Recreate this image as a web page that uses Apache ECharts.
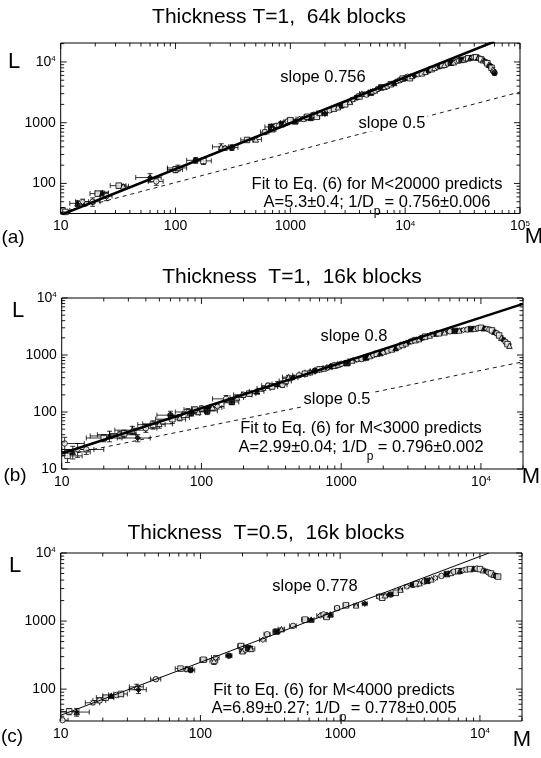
<!DOCTYPE html>
<html><head><meta charset="utf-8">
<script src="https://cdn.jsdelivr.net/npm/echarts@6/dist/echarts.min.js"></script>
<style>html,body{margin:0;padding:0;background:#fff}#c{width:541px;height:758px}</style>
</head><body><div id="c"></div><script>
// ---------- data: [M, L, dM, dL] ----------
const ptsA = [
 [10.5,36,1.5,4],[11,34,0,0],[14,47,2,5],[15.5,50,2,5],[19,50,3,8],[21,68,3,6],[23,70,3,5],[25,62,3,10],
 [32,92,5,8],[35,90,4,6],[60,125,15,20],[68,108,10,15],[100,170,15,20],[105,180,20,20],[150,240,25,25],
 [175,235,30,30],[250,400,40,50],[270,380,30,30],[310,390,40,40],[420,520,50,40],[500,530,60,40],
 [600,700,50,60],[680,850,80,80],[700,780,50,60],[750,900,60,60],[800,900,60,50],[850,950,60,60],[900,1000,80,60],
 [950,1050,70,70],[1000,1100,60,80],[1100,1050,70,60],[1200,1150,80,80],[1300,1150,80,80],[1400,1250,80,80],
 [1500,1200,100,80],[1600,1350,90,90],[1700,1250,100,60],[1800,1450,100,100],[2000,1400,100,80],[2200,1600,100,100],
 [2400,1700,100,100],[2600,1800,100,100],[2800,1900,120,120],[3000,2000,150,150],[3300,2200,150,150],[3500,2400,150,150],
 [3800,2600,150,150],[4000,2700,150,150],[4200,3000,200,150],[4600,2900,200,150],[5000,3100,200,150],[5200,3300,200,200],
 [5500,3300,200,200],[5800,3600,200,200],[6200,3800,200,200],[6600,3900,250,200],[7000,4000,300,200],[7500,4300,300,200],
 [8000,4500,300,200],[8500,4800,300,250],[9000,5000,300,300],[9500,5300,300,300],[10000,5500,400,300],[10500,5700,400,300],
 [11000,5400,400,300],[11500,5900,400,300],[12000,6000,400,300],[13000,6300,500,300],[14000,6500,500,300],[15000,6900,500,300],
 [16000,7200,500,300],[17000,7600,500,400],[18000,8000,500,400],[19000,8200,600,400],[20000,8500,600,400],[21000,8800,600,400],
 [22000,9000,600,400],[23500,9400,600,500],[25000,9700,600,500],[26500,9900,700,500],[28000,10200,700,500],[29500,10500,700,500],
 [31000,10800,700,500],[32500,11000,700,500],[34000,11200,700,500],[35500,11500,700,600],[37000,11800,700,600],[38500,11900,800,600],
 [40000,12000,800,600],[41500,11900,800,600],[43000,11700,800,600],[44500,11400,800,600],[46000,11000,800,600],[47500,10700,800,600],
 [49000,10300,800,600],[50500,9900,800,500],[52000,9500,800,500],[53500,9000,800,500],[55000,8500,800,500],[56500,8000,800,500],
 [58000,7500,800,500],[59000,7000,800,500],[60000,6600,800,500]
];
const ptsB = [
 [10.5,28,4,8],[11,17,3,4],[12,20,4,5],[13,22,4,6],[15,22,5,4],[20,35,5,5],[22,38,6,8],[26,40,8,6],
 [28,42,6,6],[32,48,8,8],[35,35,8,5],[40,52,8,8],[45,60,10,10],[50,62,12,10],[60,88,12,15],[62,75,15,12],
 [70,80,12,10],[80,100,15,15],[85,95,12,10],[90,110,15,12],[95,100,12,10],[100,115,15,12],[110,105,20,15],[120,120,20,15],
 [130,125,15,12],[150,170,30,25],[165,150,20,15],[180,180,20,15],[200,200,30,20],[220,210,25,20],[250,230,30,20],
 [280,260,30,20],[300,290,30,30],[320,280,30,25],[350,310,30,30],[380,300,30,30],[400,350,40,40],[420,410,40,30],
 [450,400,40,30],[500,440,50,30],[550,470,50,35],[600,500,50,40],[650,530,50,40],[700,560,50,40],[750,580,50,40],
 [800,600,60,50],[850,630,60,50],[900,650,60,50],[950,680,60,50],[1000,700,60,50],[1100,720,60,60],[1200,800,80,60],
 [1300,830,80,60],[1400,850,80,60],[1500,900,80,60],[1600,960,80,60],[1700,1000,80,60],[1800,1050,80,60],[1900,1080,90,70],
 [2000,1100,100,80],[2150,1180,100,80],[2300,1250,100,80],[2450,1320,100,90],[2600,1400,100,100],[2750,1500,100,100],
 [2900,1600,100,100],[3050,1680,100,100],[3200,1750,100,100],[3400,1820,120,100],[3600,1900,150,100],[3800,2000,150,100],
 [4000,2100,150,100],[4300,2200,150,120],[4500,2300,150,150],[4800,2350,150,150],[5000,2400,150,150],[5500,2500,180,150],
 [6000,2600,200,150],[6500,2650,200,150],[7000,2700,200,150],[7500,2750,200,150],[8000,2800,200,150],[8500,2850,200,150],
 [9000,2900,200,150],[9500,2950,250,150],[10000,3000,300,150],[10500,2950,300,150],[11000,2900,300,150],[11500,2800,300,150],
 [12000,2700,300,150],[12500,2550,300,150],[13000,2400,300,150],[13500,2200,300,150],[14000,2000,300,150],[14500,1850,300,120],
 [15000,1700,300,100],[15500,1550,300,100],[16000,1450,300,100]
];
const ptsC = [
 [10.3,35,1,2],[11.5,47,2,5],[13,46,3,6],[17,63,2,4],[19,68,2,4],[21,75,3,4],[23,80,3,4],[25,82,3,4],
 [27,85,3,4],[35,108,4,10],[36,98,5,12],[48,140,4,8],[72,200,6,10],[80,200,8,10],[85,190,6,8],
 [105,270,6,10],[125,260,8,30],[128,290,8,20],[160,310,8,10],[195,430,10,30],[200,360,10,20],
 [210,380,15,20],[220,400,15,20],[230,390,15,30],[280,530,15,20],[300,640,15,20],[350,700,20,30],[380,760,20,30],
 [460,850,25,30],[560,1050,30,40],[620,1050,30,40],[720,1200,40,50],[760,1250,40,50],[800,1150,40,50],[850,1250,40,50],
 [950,1550,40,50],[1100,1700,50,60],[1300,1700,50,60],[1500,1800,60,60],[1900,2300,80,80],[2000,2200,80,80],[2100,2400,80,80],
 [2300,2450,80,80],[2500,2600,90,90],[2700,2900,100,100],[3000,3200,100,100],[3300,3400,100,100],[3500,3500,100,100],[3700,3600,120,100],
 [4000,3800,120,100],[4200,3900,120,100],[4500,4100,150,120],[4800,4300,150,120],[5300,4600,150,120],[5800,4900,150,120],[6200,5100,200,150],
 [6500,5300,200,150],[7000,5400,200,150],[7200,5500,200,150],[7600,5600,200,150],[8000,5700,200,150],[8500,5800,200,150],[9000,5900,200,150],
 [9500,5900,250,150],[10000,5800,300,150],[10500,5600,300,150],[11000,5400,300,150],[11500,5200,300,150],
 [12000,5000,300,150],[12500,4800,300,150],[13000,4600,300,150],[13500,4500,300,150]
];
// fit lines (slope 0.756 / 0.8 / 0.778) and reference slope-0.5 lines
const fitA = [[10,30.2],[60000,21700]];
const fitB = [[10,18.7],[20000,7900]];
const fitC = [[10,41.3],[11600,10000]];
const halfA = [[10,33],[100000,3200]];
const halfB = [[10,17],[20000,760]];
// axis ranges
const xRangeA = [10,100000], yRangeA = [32,20500];
const xRangeB = [10,20000],  yRangeB = [10,10000];
const xRangeC = [10,20000],  yRangeC = [34,10000];
// titles and annotations
const titles = ['Thickness T=1,  64k blocks','Thickness  T=1,  16k blocks','Thickness  T=0.5,  16k blocks'];
const slopeTexts = ['slope 0.756','slope 0.8','slope 0.778'];
const fitTexts = ['Fit to Eq. (6) for M<20000 predicts','Fit to Eq. (6) for M<3000 predicts','Fit to Eq. (6) for M<4000 predicts'];
const aTexts = [['A=5.3±0.4; 1/D',' = 0.756±0.006'],['A=2.99±0.04; 1/D',' = 0.796±0.002'],['A=6.89±0.27; 1/D',' = 0.778±0.005']];
const panelTags = ['(a)','(b)','(c)'];

const FONT = '"Liberation Sans", Arial, Helvetica, sans-serif';
const ANN = 16.5;

function ticksFor(range){
  const out=[];
  for(let e=-1;e<7;e++){
    for(let k=1;k<10;k++){
      const v = k*Math.pow(10,e);
      if(v>=range[0]*0.9999 && v<=range[1]*1.0001) out.push([v, k===1?1:0]);
    }
  }
  return out;
}
function powLabel(v){
  const e=Math.log10(v), r=Math.round(e);
  if(Math.abs(e-r)>1e-6) return '';
  if(r<=3) return String(Math.round(v));
  return '{b|10}{s|'+r+'}';
}
const rich = {b:{fontSize:14,fontFamily:FONT,color:'#000'}, s:{fontSize:8,fontFamily:FONT,color:'#000',verticalAlign:'top',padding:[0,0,6,0]}};

const panels = [
  {grid:{left:60.7,top:43,width:459.3,height:170.5}, x:xRangeA, y:yRangeA, pts:ptsA, fit:fitA, half:halfA, fitW:2.5},
  {grid:{left:61.7,top:298,width:461.3,height:171}, x:xRangeB, y:yRangeB, pts:ptsB, fit:fitB, half:halfB, fitW:2.5},
  {grid:{left:60.7,top:553,width:461.3,height:168}, x:xRangeC, y:yRangeC, pts:ptsC, fit:fitC, half:null, fitW:1}
];

const grids=[], xAxes=[], yAxes=[], series=[];
const symbols=['circle','rect','triangle','diamond','circle','rect','triangle'];
panels.forEach((p,gi)=>{
  grids.push(Object.assign({show:true,borderColor:'#000',borderWidth:1,backgroundColor:'transparent',containLabel:false}, p.grid));
  const labelCfg = {formatter:powLabel,color:'#000',fontSize:14,fontFamily:FONT,rich,showMinLabel:true,showMaxLabel:true};
  xAxes.push({type:'log',logBase:10,gridIndex:gi,min:p.x[0],max:p.x[1],axisLine:{show:false},axisTick:{show:false},splitLine:{show:false},
    axisLabel:Object.assign({margin:6},labelCfg)});
  yAxes.push({type:'log',logBase:10,gridIndex:gi,min:p.y[0],max:p.y[1],axisLine:{show:false},axisTick:{show:false},splitLine:{show:false},
    axisLabel:Object.assign({margin:5},labelCfg)});
  // error bars
  series.push({type:'custom',xAxisIndex:gi,yAxisIndex:gi,silent:true,clip:true,z:2,data:p.pts,encode:{x:0,y:1},
    renderItem(params,api){
      const M=api.value(0),L=api.value(1),dM=api.value(2),dL=api.value(3);
      const st={stroke:'#000',lineWidth:0.8,fill:null};
      const ch=[];
      if(dM>0){
        const l=api.coord([M-dM,L]), r=api.coord([M+dM,L]);
        ch.push({type:'line',shape:{x1:l[0],y1:l[1],x2:r[0],y2:r[1]},style:st});
        ch.push({type:'line',shape:{x1:l[0],y1:l[1]-2.5,x2:l[0],y2:l[1]+2.5},style:st});
        ch.push({type:'line',shape:{x1:r[0],y1:r[1]-2.5,x2:r[0],y2:r[1]+2.5},style:st});
      }
      if(dL>0){
        const b=api.coord([M,L-dL]), t=api.coord([M,L+dL]);
        ch.push({type:'line',shape:{x1:b[0],y1:b[1],x2:t[0],y2:t[1]},style:st});
        ch.push({type:'line',shape:{x1:b[0]-2.5,y1:b[1],x2:b[0]+2.5,y2:b[1]},style:st});
        ch.push({type:'line',shape:{x1:t[0]-2.5,y1:t[1],x2:t[0]+2.5,y2:t[1]},style:st});
      }
      return {type:'group',children:ch};
    }});
  // points
  series.push({type:'scatter',xAxisIndex:gi,yAxisIndex:gi,silent:true,z:3,data:p.pts.map(d=>[d[0],d[1]]),
    symbol:(v,pr)=>symbols[pr.dataIndex%symbols.length], symbolSize:5.5,
    itemStyle:{color:(pr)=>pr.dataIndex%4===2?'#000':'#fff',borderColor:'#000',borderWidth:1}});
  // fit line
  series.push({type:'line',xAxisIndex:gi,yAxisIndex:gi,silent:true,z:4,data:p.fit,showSymbol:false,symbol:'none',clip:true,
    lineStyle:{color:'#000',width:p.fitW}});
  if(p.half) series.push({type:'line',xAxisIndex:gi,yAxisIndex:gi,silent:true,z:4,data:p.half,showSymbol:false,symbol:'none',clip:true,
    lineStyle:{color:'#000',width:0.9,type:[4,4]}});
  // ticks on all four sides
  const tdata=[];
  ticksFor(p.x).forEach(t=>tdata.push([t[0],p.y[0],0,t[1]]));
  ticksFor(p.y).forEach(t=>tdata.push([p.x[0],t[0],1,t[1]]));
  series.push({type:'custom',xAxisIndex:gi,yAxisIndex:gi,silent:true,clip:false,z:5,data:tdata,encode:{x:0,y:1},
    renderItem(params,api){
      const cs=params.coordSys, kind=api.value(2), major=api.value(3);
      const len=major?6:3.5, st={stroke:'#000',lineWidth:0.9};
      if(kind===0){
        const x=api.coord([api.value(0),p.y[0]])[0];
        return {type:'group',children:[
          {type:'line',shape:{x1:x,y1:cs.y+cs.height,x2:x,y2:cs.y+cs.height-len},style:st},
          {type:'line',shape:{x1:x,y1:cs.y,x2:x,y2:cs.y+len},style:st}]};
      } else {
        const y=api.coord([p.x[0],api.value(1)])[1];
        return {type:'group',children:[
          {type:'line',shape:{x1:cs.x,y1:y,x2:cs.x+len,y2:y},style:st},
          {type:'line',shape:{x1:cs.x+cs.width,y1:y,x2:cs.x+cs.width-len,y2:y},style:st}]};
      }
    }});
});

const mctx=document.createElement('canvas').getContext('2d');
function tw(s,size){mctx.font=size+'px '+FONT;return mctx.measureText(s).width;}
function txt(x,y,s,size,align,bg){
  const st={text:s,fontSize:size,fontFamily:FONT,fill:'#000',align:align||'center',verticalAlign:'middle'};
  if(bg){st.backgroundColor='#fff';st.padding=[0,2,0,2];}
  return {type:'text',x:x,y:y,z:10,silent:true,style:st};
}
const titlePos=[[279,17],[292,277],[266,533]];
const slopePos=[[323,77],[354,336],[315,586]];
const halfPos=[[392,123],[337,399]];
const fitPos=[[377,184],[361,428],[334,690]];
const aPos=[[377,202],[361,447],[334,708]];
const LPos=[[14,62],[18,311],[15,566]];
const MPos=[[534,237],[531,477],[522,740]];
const tagPos=[[13,238],[15,476],[12,737]];
const g=[];
for(let i=0;i<3;i++){
  g.push(txt(titlePos[i][0],titlePos[i][1],titles[i],21));
  g.push(txt(slopePos[i][0],slopePos[i][1],slopeTexts[i],ANN));
  if(i<2) g.push(txt(halfPos[i][0],halfPos[i][1],'slope 0.5',ANN,'center',true));
  g.push(txt(fitPos[i][0],fitPos[i][1],fitTexts[i],ANN));
  const w1=tw(aTexts[i][0],ANN), w2=tw(aTexts[i][1],ANN), gap=6;
  const x0=aPos[i][0]-(w1+gap+w2)/2;
  g.push(txt(x0,aPos[i][1],aTexts[i][0],ANN,'left'));
  g.push(txt(x0+w1+gap/2,aPos[i][1]+10,'p',12));
  g.push(txt(x0+w1+gap,aPos[i][1],aTexts[i][1],ANN,'left'));
  g.push(txt(LPos[i][0],LPos[i][1],'L',22));
  g.push(txt(MPos[i][0],MPos[i][1],'M',22));
  g.push(txt(tagPos[i][0],tagPos[i][1],panelTags[i],19));
}

const chart=echarts.init(document.getElementById('c'),null,{renderer:'canvas'});
chart.setOption({animation:false,backgroundColor:'#fff',grid:grids,xAxis:xAxes,yAxis:yAxes,series,graphic:g});
</script></body></html>
